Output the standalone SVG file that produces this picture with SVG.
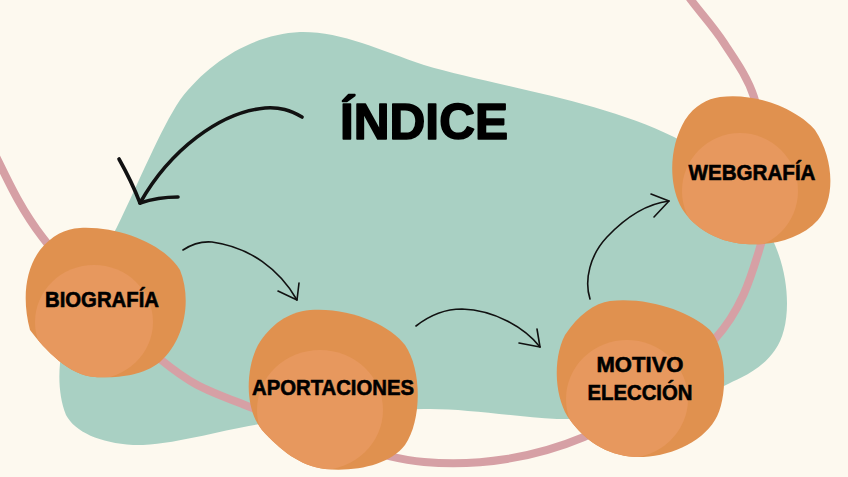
<svg xmlns="http://www.w3.org/2000/svg" width="848" height="477" viewBox="0 0 848 477">
<defs>
<style>
.bg{fill:#FDF9EF}
.blob{fill:#A9D0C3}
.ring{fill:none;stroke:#D6A0A5;stroke-width:8}
.outer{fill:#E0914F}
.inner{fill:#E7985E}
.lbl{font-family:"Liberation Sans",Arial,sans-serif;font-weight:bold;font-size:22px;fill:#000;stroke:#000;stroke-width:0.6;text-anchor:middle}
.title{font-family:"Liberation Sans",Arial,sans-serif;font-weight:bold;font-size:50px;fill:#000;stroke:#000;stroke-width:1.6;stroke-linejoin:round;text-anchor:middle}
.arrow{fill:none;stroke:#111;stroke-linecap:round;stroke-linejoin:round}
.thin{stroke-width:1.6}
.thick{stroke-width:3.6}
</style>
<clipPath id="cBio"><path d="M 80,228 C 120,226 165,245 180,270 C 192,300 185,340 160,362 C 140,378 110,378 95,377 C 70,376 45,350 30,330 C 22,300 25,270 40,250 C 52,235 65,229 80,228 Z"/></clipPath>
<clipPath id="cApo"><path d="M 310,310 C 350,307 390,325 405,345 C 422,370 422,420 405,445 C 390,465 355,472 325,469 C 300,466 280,450 262,430 C 245,410 245,370 258,345 C 270,325 288,312 310,310 Z"/></clipPath>
<clipPath id="cMot"><path d="M 610,301 C 650,297 690,312 710,330 C 728,350 728,400 715,420 C 700,445 665,458 635,457 C 605,455 585,440 570,420 C 555,400 552,360 565,335 C 578,315 595,303 610,301 Z"/></clipPath>
<clipPath id="cWeb"><path d="M 720,97 C 760,92 800,112 815,130 C 835,160 835,200 818,220 C 800,240 770,246 745,244 C 715,242 690,225 680,205 C 668,180 670,145 685,120 C 695,105 707,99 720,97 Z"/></clipPath>
</defs>
<rect class="bg" x="0" y="0" width="848" height="477"/>
<path class="blob" d="M 300,32 C 340,31 380,50 424,65 C 490,85 600,100 674,137 C 720,160 760,210 775,245 C 792,285 790,330 775,350 C 760,372 735,380 726,385 C 680,410 600,420 557,419 C 510,416 460,408 424,409 C 360,410 300,420 260,424 C 220,430 170,446 133,445 C 100,443 75,432 66,415 C 58,395 58,370 62,350 C 70,300 100,260 117,227 C 140,180 160,130 180,100 C 210,60 255,34 300,32 Z"/>
<path class="ring" d="M -20,125 C 1,163 13,199 43,238 C 73,277 125.5,330.8 160,359 C 194.5,387.2 206,389.8 250,407 C 294,424.2 368.3,457 424,462 C 479.7,467 535.7,457.3 584,437 C 632.3,416.7 684.5,372.2 714,340 C 743.5,307.8 752.3,272.3 761,244 C 769.7,215.7 767.2,194.5 766,170 C 764.8,145.5 761,118.2 754,97 C 747,75.8 734.5,59.2 724,43 C 713.5,26.8 700,12.2 691,0 L 670,-30"/>
<g id="title">
<text class="title" x="424" y="139" textLength="168" lengthAdjust="spacingAndGlyphs">ÍNDICE</text>
</g>
<g id="connectors">
<path class="arrow thick" d="M 302,117 C 290,110 280,107 265,108 C 220,112 170,150 140,203"/>
<path class="arrow thick" d="M 119,159 C 128,175 135,190 140,203 C 152,199 165,197 178,197"/>
<path class="arrow thin" d="M 183,250 C 192,244 200,241 212,242 C 250,247 280,270 297,300"/>
<path class="arrow thin" d="M 278,291 L 297,300 L 299,283"/>
<path class="arrow thin" d="M 416,326 C 430,315 445,309 462,309 C 495,310 525,328 540,347"/>
<path class="arrow thin" d="M 519,343 L 540,347 L 537,329"/>
<path class="arrow thin" d="M 590,299 C 584,280 590,255 607,237 C 625,218 645,204 669,201"/>
<path class="arrow thin" d="M 651,194 L 669,201 L 654,217"/>
</g>
<g id="biografia">
<path class="outer" d="M 80,228 C 120,226 165,245 180,270 C 192,300 185,340 160,362 C 140,378 110,378 95,377 C 70,376 45,350 30,330 C 22,300 25,270 40,250 C 52,235 65,229 80,228 Z"/>
<ellipse class="inner" clip-path="url(#cBio)" cx="94" cy="322" rx="59" ry="57"/>
<text class="lbl" x="102" y="307" textLength="114" lengthAdjust="spacingAndGlyphs">BIOGRAFÍA</text>
</g>
<g id="aportaciones">
<path class="outer" d="M 310,310 C 350,307 390,325 405,345 C 422,370 422,420 405,445 C 390,465 355,472 325,469 C 300,466 280,450 262,430 C 245,410 245,370 258,345 C 270,325 288,312 310,310 Z"/>
<ellipse class="inner" clip-path="url(#cApo)" cx="320" cy="410" rx="63" ry="60"/>
<text class="lbl" x="333" y="395" textLength="162" lengthAdjust="spacingAndGlyphs">APORTACIONES</text>
</g>
<g id="motivo">
<path class="outer" d="M 610,301 C 650,297 690,312 710,330 C 728,350 728,400 715,420 C 700,445 665,458 635,457 C 605,455 585,440 570,420 C 555,400 552,360 565,335 C 578,315 595,303 610,301 Z"/>
<ellipse class="inner" clip-path="url(#cMot)" cx="627" cy="399" rx="61" ry="59"/>
<text class="lbl" x="640" y="372" textLength="87" lengthAdjust="spacingAndGlyphs">MOTIVO</text>
<text class="lbl" x="640" y="400" textLength="105" lengthAdjust="spacingAndGlyphs">ELECCIÓN</text>
</g>
<g id="webgrafia">
<path class="outer" d="M 720,97 C 760,92 800,112 815,130 C 835,160 835,200 818,220 C 800,240 770,246 745,244 C 715,242 690,225 680,205 C 668,180 670,145 685,120 C 695,105 707,99 720,97 Z"/>
<ellipse class="inner" clip-path="url(#cWeb)" cx="740" cy="191" rx="58" ry="58"/>
<text class="lbl" x="752" y="180" textLength="127" lengthAdjust="spacingAndGlyphs">WEBGRAFÍA</text>
</g>
</svg>
